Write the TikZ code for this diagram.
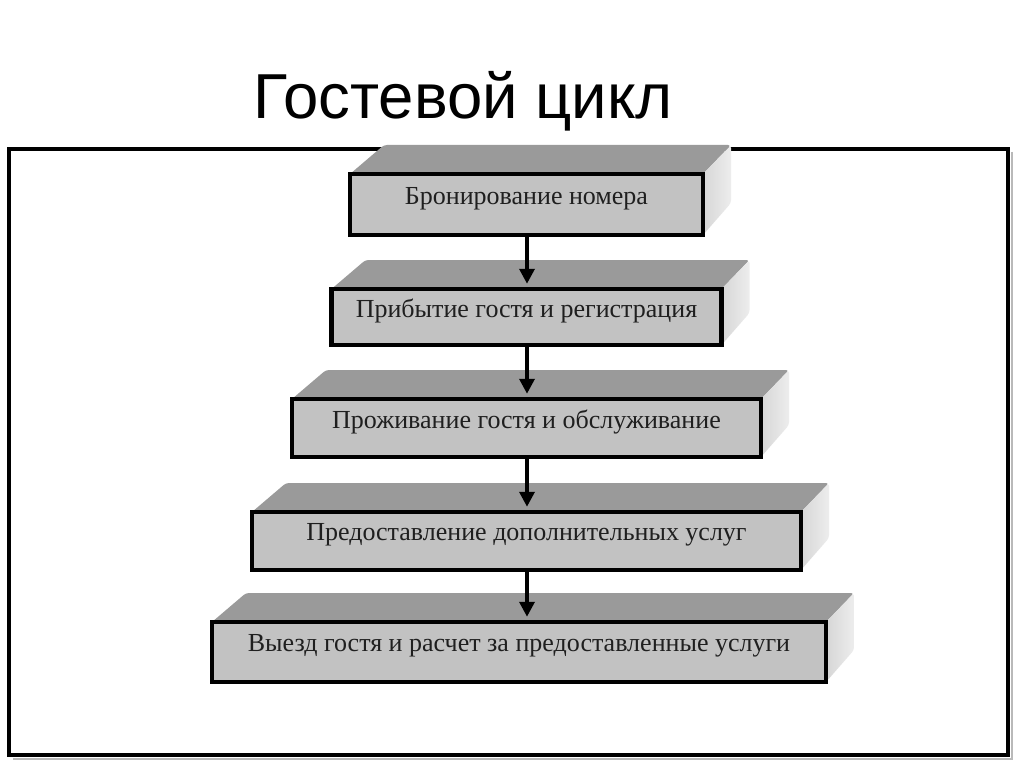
\documentclass[tikz,border=0pt]{standalone}
\usepackage{fontspec}
\setmainfont{Liberation Serif}
\newfontfamily\titlefont{Liberation Sans}
\usetikzlibrary{arrows.meta}
\definecolor{topface}{HTML}{9A9A9A}
\definecolor{frontface}{HTML}{C2C2C2}
\definecolor{sidefaceA}{HTML}{D6D6D6}
\definecolor{sidefaceB}{HTML}{EDEDED}
\tikzset{
  frontbox/.style={draw=black, line width=4.5pt, fill=frontface, inner sep=0pt},
  boxtext/.style={font=\fontsize{26}{30}\selectfont, text=black!88},
  topstyle/.style={fill=topface, draw=none, rounded corners=3pt},
  sidestyle/.style={left color=sidefaceA, right color=sidefaceB, draw=none, rounded corners=3pt},
  flowarrow/.style={line width=3.5pt, -{Triangle[width=15pt,length=15pt]}, shorten >=3pt},
  outerframe/.style={draw=black, line width=4pt}
}
% #1 name, #2 center x, #3 center y, #4 width, #5 height, #6 text
\newcommand\stepblock[6]{%
  \coordinate (#1c) at (#2,#3);
  \path (#1c) ++(-#4/2,-#5/2) coordinate (#1nw) (#1c) ++(#4/2,-#5/2) coordinate (#1ne)
        (#1c) ++(#4/2,#5/2) coordinate (#1se);
  \fill[topstyle] (#1nw) -- ++(34,-29) -- ([shift={(28,-29)}]#1ne) -- (#1ne) -- cycle;
  \shade[sidestyle] (#1ne) -- ([shift={(28,-29)}]#1ne) -- ([shift={(28,-32)}]#1se) -- (#1se) -- cycle;
  \node[frontbox, minimum width=#4pt, minimum height=#5pt] (#1) at (#1c) {};
  \node[boxtext] (#1t) at ([yshift=6pt]#1.center) {#6};
}
\begin{document}
\begin{tikzpicture}[x=1pt,y=-1pt]
\useasboundingbox (0,0) rectangle (1024,767);
\fill[white] (0,0) rectangle (1024,767);
\node[font=\titlefont\fontsize{63.5}{70}\selectfont, anchor=base west, inner sep=0pt] (title) at (253,119) {Гостевой цикл};
\coordinate (fnw) at (9,149);
\coordinate (fse) at (1008,755);
\draw[gray!55, line width=2pt] (1012,152) -- (1012,759) -- (13,759);
\draw[outerframe] (fnw) rectangle (fse);
\stepblock{b1}{526.5}{204.5}{353}{61}{Бронирование номера}
\stepblock{b2}{526.5}{317}{390}{56}{Прибытие гостя и регистрация}
\stepblock{b3}{526.5}{428}{469}{58}{Проживание гостя и обслуживание}
\stepblock{b4}{526.5}{541}{549}{58}{Предоставление дополнительных услуг}
\stepblock{b5}{519}{652}{614}{60}{Выезд гостя и расчет за предоставленные услуги}
\draw[flowarrow] (b1.south -| 527,0) -- (b2.north -| 527,0);
\draw[flowarrow] (b2.south -| 527,0) -- (b3.north -| 527,0);
\draw[flowarrow] (b3.south -| 527,0) -- (b4.north -| 527,0);
\draw[flowarrow] (b4.south -| 527,0) -- (b5.north -| 527,0);
\end{tikzpicture}
\end{document}
